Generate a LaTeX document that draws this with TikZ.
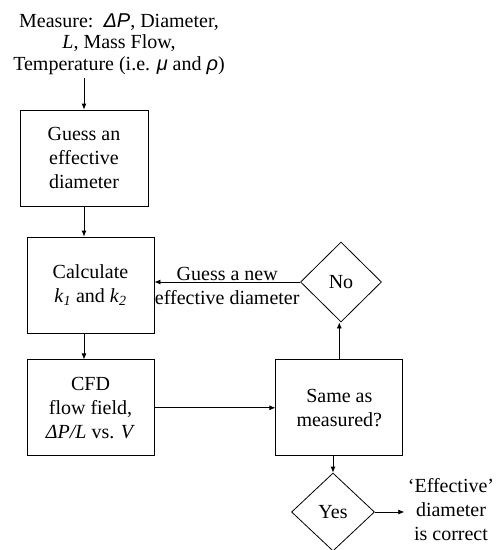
\documentclass[tikz,border=0pt]{standalone}
\usepackage{fontspec}
\setmainfont{Liberation Serif}
\newfontfamily\gkfont{Liberation Sans}
\usepackage{tikz}
\usetikzlibrary{shapes.geometric,arrows.meta,positioning,calc}

\begin{document}
\begin{tikzpicture}[x=1pt,y=-1pt,
  stepbox/.style={draw,line width=0.8pt,minimum width=127pt,minimum height=96pt,
              align=center,font=\fontsize{20}{24}\selectfont,inner sep=0pt},
  dec/.style={draw,diamond,line width=0.8pt,minimum width=81pt,minimum height=80pt,
              inner sep=0pt,font=\fontsize{20}{24}\selectfont},
  txt/.style={align=center,font=\fontsize{20}{24}\selectfont},
  arr/.style={-{Latex[length=6pt,width=5pt]},line width=0.8pt}
]
\useasboundingbox (0,0) rectangle (496,550);
\node[txt,font=\fontsize{20}{21.5}\selectfont] (meas) at (119,44)
  {Measure:\ \ {\gkfont\itshape ΔP}, Diameter,\\\textit{L}, Mass Flow,\\Temperature (i.e. {\gkfont\itshape μ} and {\gkfont\itshape ρ})};
\node[stepbox,minimum width=128pt] (b1) at (84,158) {Guess an\\effective\\diameter};
\node[stepbox] (b2) at (90.5,285) {Calculate\\\textit{k}\textsubscript{\textit{1}} and \textit{k}\textsubscript{\textit{2}}};
\node[stepbox,below=26pt of b2] (b3) {CFD\\flow field,\\\textit{ΔP/L} vs. \textit{V}};
\node[stepbox,right=121pt of b3] (b4) {Same as\\measured?};
\node[dec] (no) at (341,282) {No};
\node[dec,minimum width=83pt,minimum height=78pt] (yes) at (333,512) {Yes};
\node[txt] (res) at (451,510) {‘Effective’\\diameter\\is correct};
\draw[arr] (meas.south -| b1.north) -- (b1.north);
\draw[arr] (b1.south) -- (b1.south |- b2.north);
\draw[arr] (b2.south -| b1.south) -- (b3.north -| b1.south);
\draw[arr] (b3.east) -- (b4.west);
\draw[arr] (b4.north) -- (b4.north |- no.south);
\draw[arr] (no.west) -- node[txt,midway,yshift=-4pt] {Guess a new\\effective diameter} (no.west -| b2.east);
\draw[arr] (b4.south -| yes.north) -- (yes.north);
\draw[arr] (yes.east) -- (yes.east -| res.west);
\end{tikzpicture}
\end{document}
